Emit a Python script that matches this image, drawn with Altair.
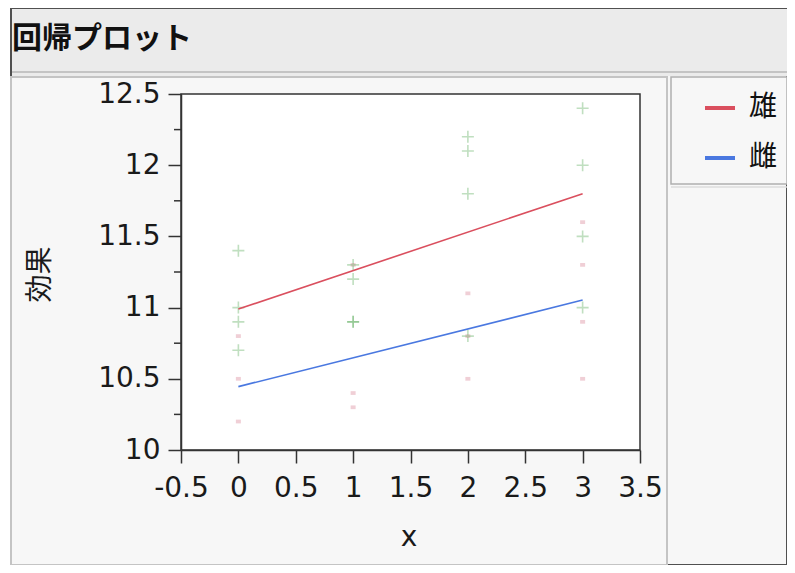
import altair as alt
import pandas as pd

# ---- data ----
male_x = [0, 0, 0, 0, 1, 1, 1, 1, 2, 2, 2, 2, 3, 3, 3, 3]
male_y = [11.4, 11.0, 10.9, 10.7, 11.3, 11.2, 10.9, 10.9, 12.2, 12.1, 11.8, 10.8, 12.4, 12.0, 11.5, 11.0]
female_x = [0, 0, 0, 1, 1, 1, 2, 2, 2, 3, 3, 3, 3]
female_y = [10.8, 10.5, 10.2, 11.3, 10.4, 10.3, 11.1, 10.8, 10.5, 11.6, 11.3, 10.9, 10.5]
fit_x = [0, 3]
male_fit = [10.99, 11.80]
female_fit = [10.445, 11.053]
groups = ["雄", "雌"]
group_colors = ["#DA4F5E", "#4A78E0"]
x_ticks = [-0.5, 0, 0.5, 1, 1.5, 2, 2.5, 3, 3.5]
y_ticks = [10, 10.5, 11, 11.5, 12, 12.5]
y_minor = [10.25, 10.75, 11.25, 11.75, 12.25]

W, H = 459, 356
FONT = "DejaVu Sans"
CJK = "Noto Sans CJK JP"

male_df = pd.DataFrame({"x": male_x, "y": male_y})
female_df = pd.DataFrame({"x": female_x, "y": female_y})
fit_df = pd.DataFrame({
    "x": fit_x + fit_x,
    "y": male_fit + female_fit,
    "g": [groups[0]] * 2 + [groups[1]] * 2,
})
minor_df = pd.DataFrame({"y": y_minor})
one = alt.Data(values=[{"a": 1}])

xs = alt.Scale(domain=[-0.5, 3.5], nice=False, zero=False)
ys = alt.Scale(domain=[10, 12.5], nice=False, zero=False)


def box(x0, x1, y0, y1, **kw):
    return alt.Chart(one).mark_rect(**kw).encode(
        x=alt.value(x0), x2=alt.value(x1), y=alt.value(y0), y2=alt.value(y1))


def hline(x0, x1, y, color, sw):
    return alt.Chart(one).mark_rule(color=color, strokeWidth=sw).encode(
        x=alt.value(x0), x2=alt.value(x1), y=alt.value(y))


bg = box(-170, 606, -86, 471, fill="#f7f7f7", stroke="#505050", strokeWidth=2)
titlebar = box(-169, 606, -85, -18, fill="#ebebeb")
titleline = hline(-169, 606, -22, "#c4c4c4", 2)
plotpanel = box(-170, 486, -17, 471, fill="#f7f7f7", stroke="#c4c4c4", strokeWidth=2)
legpanel = box(490, 606, -17, 90, fill="#f7f7f7", stroke="#b0b0b0", strokeWidth=1.5)
legline = hline(490, 606, 93, "#dcdcdc", 1.5)
plotbg = box(0, W, 0, H, fill="white")

title = alt.Chart(one).mark_text(
    align="left", baseline="middle", font=CJK, fontSize=30, fontWeight="bold", color="#111"
).encode(x=alt.value(-169), y=alt.value(-55), text=alt.value("回帰プロット"))

plus_path = "M-1,0L1,0M0,-1L0,1"
dash_path = "M-1,-0.75L1,-0.75L1,0.75L-1,0.75Z"

male_pts = alt.Chart(male_df).mark_point(
    shape=plus_path, filled=False, size=144, stroke="#3E9E3E", strokeWidth=1.6, opacity=0.32
).encode(
    x=alt.X("x:Q", scale=xs,
            axis=alt.Axis(values=x_ticks, title="x", labelExpr="toString(datum.value)",
                          labelOverlap=False, labelFlush=False,
                          titleX=W / 2 - 2, titleY=87, titleBaseline="middle",
                          tickSize=13, labelPadding=11, zindex=1)),
    y=alt.Y("y:Q", scale=ys,
            axis=alt.Axis(values=y_ticks, title="効果", labelExpr="toString(datum.value)",
                          labelOverlap=False, labelFlush=False,
                          titleX=-141, titleY=H / 2 + 2, titleAngle=270, titleBaseline="middle",
                          titleAlign="center", titleFont=CJK,
                          tickSize=13, labelPadding=8, zindex=1)),
)

female_pts = alt.Chart(female_df).mark_point(
    shape=dash_path, filled=True, size=25, fill="#D98799", opacity=0.4, strokeWidth=0
).encode(x=alt.X("x:Q", scale=xs), y=alt.Y("y:Q", scale=ys))

fit = alt.Chart(fit_df).mark_line(strokeWidth=1.6).encode(
    x=alt.X("x:Q", scale=xs),
    y=alt.Y("y:Q", scale=ys),
    color=alt.Color("g:N", scale=alt.Scale(domain=groups, range=group_colors),
                    legend=alt.Legend(title=None, orient="none", legendX=522, legendY=-3,
                                      symbolType="stroke", symbolSize=900, symbolStrokeWidth=4,
                                      labelFont=CJK, labelFontSize=28, labelColor="#111",
                                      labelOffset=12, rowPadding=19, padding=0)),
    detail="g:N",
)

minor = alt.Chart(minor_df).mark_rule(color="#333", strokeWidth=1.5).encode(
    y=alt.Y("y:Q", scale=ys), x=alt.value(-7), x2=alt.value(0))

border = box(0, W, 0, H, fill=None, fillOpacity=0, stroke="#333", strokeWidth=1.5)

chart = alt.layer(
    bg, titlebar, titleline, plotpanel, legpanel, legline, plotbg, title,
    female_pts, male_pts, fit, minor, border
).properties(
    width=W, height=H,
    autosize=alt.AutoSizeParams(type="none"),
    padding={"left": 173, "top": 86, "right": 147, "bottom": 115},
    background="white",
).configure_view(stroke=None).configure_axis(
    domainColor="#333", domainWidth=1.5, tickColor="#333", tickWidth=1.5,
    labelFont=FONT, labelFontSize=28, labelColor="#1a1a1a",
    titleFont=FONT, titleFontSize=28, titleColor="#1a1a1a", titleFontWeight="normal",
    grid=False,
)

chart.save("out.html", embed_options={"renderer": "svg", "actions": False})
